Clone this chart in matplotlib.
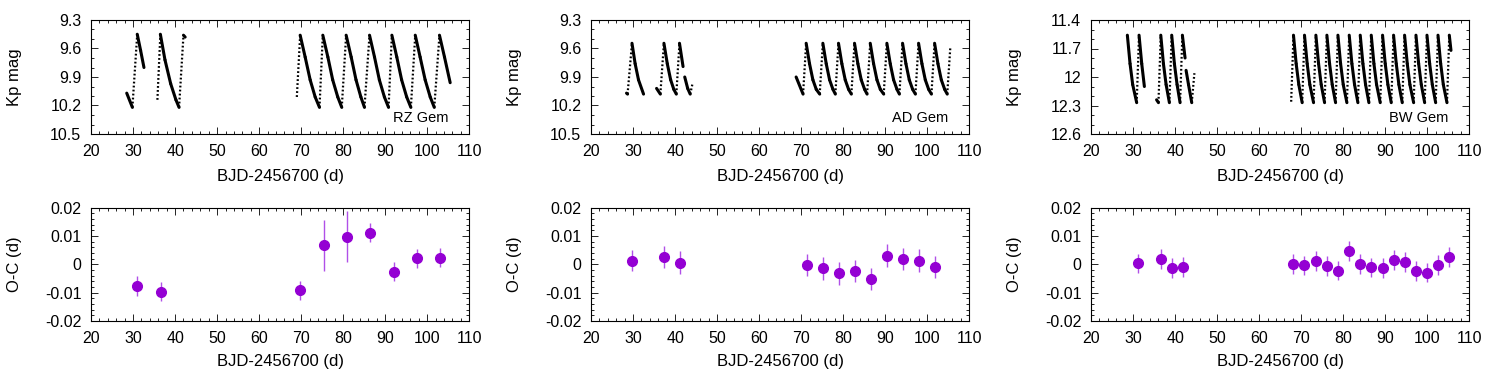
import numpy as np
import matplotlib.pyplot as plt
from matplotlib.ticker import MultipleLocator, FuncFormatter

plt.rcParams['font.family'] = ['Liberation Sans', 'DejaVu Sans']

# ---- light curves (segments separated by data gaps) ----
rz_t = [
    [28.5, 29.85, 31.0, 31.8, 32.6],
    [35.8, 36.5, 37.6, 38.95, 40.2, 40.95, 42.0, 42.4],
    [68.97, 69.76, 70.95, 72.14, 73.33, 74.36,
     75.15, 76.35, 77.5, 78.7, 79.66,
     80.7, 81.9, 83.05, 84.2, 85.06,
     86.26, 87.45, 88.6, 89.8, 90.79,
     91.58, 92.75, 93.9, 95.1, 96.1,
     97.14, 98.3, 99.5, 100.7, 101.67,
     102.9, 104.1, 105.45],
]
rz_m = [
    [10.07, 10.22, 9.45, 9.62, 9.80],
    [10.14, 9.45, 9.72, 9.97, 10.14, 10.22, 9.46, 9.48],
    [10.11, 9.46, 9.69, 9.93, 10.11, 10.22,
     9.46, 9.69, 9.93, 10.11, 10.22,
     9.46, 9.69, 9.93, 10.11, 10.22,
     9.46, 9.69, 9.93, 10.11, 10.22,
     9.46, 9.69, 9.93, 10.11, 10.22,
     9.46, 9.69, 9.93, 10.11, 10.22,
     9.46, 9.69, 9.96],
]

ad_t = [
    [28.45, 28.7, 29.75, 30.5, 31.3, 32.5],
    [35.6, 36.5, 37.35, 38.15, 38.95, 39.7, 40.3, 41.05, 41.9],
    [42.3, 43.0, 43.6, 44.1],
    [68.8, 70.45, 71.19, 71.99, 72.79, 73.59, 74.41,
     75.16, 75.96, 76.76, 77.56, 78.13,
     78.88, 79.68, 80.48, 81.28, 81.94,
     82.69, 83.49, 84.29, 85.09, 85.68,
     86.43, 87.23, 88.03, 88.83, 89.64,
     90.39, 91.19, 91.99, 92.79, 93.37,
     94.12, 94.92, 95.72, 96.52, 97.18,
     97.93, 98.73, 99.53, 100.33, 100.99,
     101.74, 102.54, 103.34, 104.14, 104.75,
     105.48],
]
ad_m = [
    [10.07, 10.08, 9.545, 9.76, 9.93, 10.08],
    [10.02, 10.08, 9.545, 9.76, 9.93, 10.03, 10.08, 9.545, 9.79],
    [9.90, 10.02, 10.08, 9.98],
    [9.90, 10.08, 9.545, 9.76, 9.93, 10.03, 10.08,
     9.545, 9.76, 9.93, 10.03, 10.08,
     9.545, 9.76, 9.93, 10.03, 10.08,
     9.545, 9.76, 9.93, 10.03, 10.08,
     9.545, 9.76, 9.93, 10.03, 10.08,
     9.545, 9.76, 9.93, 10.03, 10.08,
     9.545, 9.76, 9.93, 10.03, 10.08,
     9.545, 9.76, 9.93, 10.03, 10.08,
     9.545, 9.76, 9.93, 10.03, 10.08,
     9.59],
]

bw_t = [
    [28.65, 29.29, 29.92, 30.87, 31.43, 32.07, 32.7],
    [35.6, 36.05, 36.6, 37.23, 37.87, 38.65, 39.2, 39.84, 40.48, 41.19, 41.74, 42.38],
    [42.62, 43.2, 43.97, 44.6],
    [67.62, 68.17, 68.81, 69.44, 70.24,
     70.79, 71.43, 72.06, 72.95,
     73.5, 74.14, 74.77, 75.57,
     76.12, 76.76, 77.39, 78.19,
     78.74, 79.38, 80.01, 80.88,
     81.43, 82.07, 82.70, 83.5,
     84.05, 84.69, 85.32, 86.12,
     86.67, 87.31, 87.94, 88.81,
     89.36, 90.0, 90.63, 91.43,
     91.98, 92.62, 93.25, 94.05,
     94.6, 95.24, 95.87, 96.76,
     97.31, 97.95, 98.58, 99.38,
     99.93, 100.57, 101.2, 102.0,
     102.55, 103.19, 103.82, 104.69,
     105.24, 105.64],
]
bw_m = [
    [11.56, 11.86, 12.08, 12.27, 11.56, 11.86, 12.10],
    [12.24, 12.27, 11.56, 11.86, 12.08, 12.27, 11.56, 11.86, 12.08, 12.27, 11.56, 11.80],
    [11.93, 12.08, 12.27, 11.96],
    [12.26, 11.56, 11.86, 12.08, 12.27,
     11.56, 11.86, 12.08, 12.27,
     11.56, 11.86, 12.08, 12.27,
     11.56, 11.86, 12.08, 12.27,
     11.56, 11.86, 12.08, 12.27,
     11.56, 11.86, 12.08, 12.27,
     11.56, 11.86, 12.08, 12.27,
     11.56, 11.86, 12.08, 12.27,
     11.56, 11.86, 12.08, 12.27,
     11.56, 11.86, 12.08, 12.27,
     11.56, 11.86, 12.08, 12.27,
     11.56, 11.86, 12.08, 12.27,
     11.56, 11.86, 12.08, 12.27,
     11.56, 11.86, 12.08, 12.27,
     11.56, 11.72],
]

# ---- O-C diagrams ----
rz_oc_t = [31.03, 36.59, 69.76, 75.32, 80.87, 86.43, 91.98, 97.54, 102.94]
rz_oc = [-0.0076, -0.0096, -0.0092, 0.0068, 0.0098, 0.0112, -0.0026, 0.0021, 0.0024]
rz_oc_err = [0.0035, 0.0035, 0.0034, 0.0090, 0.0090, 0.0034, 0.0034, 0.0033, 0.0035]

ad_oc_t = [29.84, 37.38, 41.19, 71.35, 75.16, 79.05, 82.86, 86.59, 90.40, 94.20, 97.94, 101.75]
ad_oc = [0.0012, 0.0026, 0.0006, -0.0002, -0.0014, -0.0032, -0.0024, -0.0052,
         0.0031, 0.0019, 0.0013, -0.0009]
ad_oc_err = [0.0037, 0.0038, 0.0040, 0.0040, 0.0040, 0.0040, 0.0040, 0.0040,
             0.0040, 0.0040, 0.0040, 0.0040]

bw_oc_t = [31.27, 36.59, 39.29, 41.83, 68.17, 70.79, 73.49, 76.11, 78.73, 81.43,
           84.05, 86.67, 89.37, 91.98, 94.60, 97.30, 99.92, 102.54, 105.24]
bw_oc = [0.0004, 0.0019, -0.0012, -0.0010, 0.0000, -0.0004, 0.0011, -0.0005, -0.0022,
         0.0047, 0.0002, -0.0011, -0.0014, 0.0015, 0.0007, -0.0024, -0.0029, -0.0002, 0.0027]
bw_oc_err = [0.0034, 0.0034, 0.0036, 0.0036, 0.0035, 0.0035, 0.0035, 0.0035, 0.0035, 0.0035,
             0.0035, 0.0035, 0.0035, 0.0035, 0.0035, 0.0035, 0.0035, 0.0035, 0.0035]

names = ["RZ Gem", "AD Gem", "BW Gem"]
lc_t = [rz_t, ad_t, bw_t]
lc_m = [rz_m, ad_m, bw_m]
ylims = [(10.5, 9.3), (10.5, 9.3), (12.6, 11.4)]
oc_t = [rz_oc_t, ad_oc_t, bw_oc_t]
oc = [rz_oc, ad_oc, bw_oc]
oc_err = [rz_oc_err, ad_oc_err, bw_oc_err]

purple = '#9400d3'
gfmt = FuncFormatter(lambda v, p: '%g' % round(v, 6))


def style(ax):
    ax.set_xlim(20, 110)
    ax.xaxis.set_major_locator(MultipleLocator(10))
    ax.xaxis.set_minor_locator(MultipleLocator(2))
    ax.tick_params(which='both', direction='in', top=True, right=True,
                   labelsize=11.5, width=0.6)
    ax.tick_params(which='major', length=5)
    ax.tick_params(which='minor', length=2.5)
    ax.tick_params(axis='x', pad=7)
    ax.tick_params(axis='y', pad=7)
    ax.xaxis.set_major_formatter(gfmt)
    ax.yaxis.set_major_formatter(gfmt)
    for s in ax.spines.values():
        s.set_linewidth(0.8)
    ax.set_xlabel("BJD-2456700 (d)", fontsize=12)


fig = plt.figure(figsize=(15, 3.75), dpi=100)
lefts = [91 / 1500, 591 / 1500, 1091 / 1500]
w = 378.3 / 1500

for i in range(3):
    # light curve
    ax = fig.add_axes([lefts[i], 1 - 134 / 375, w, 114 / 375])
    for ts, ms in zip(lc_t[i], lc_m[i]):
        for j in range(len(ts) - 1):
            seg_t = [ts[j], ts[j + 1]]
            seg_m = [ms[j], ms[j + 1]]
            if ms[j + 1] < ms[j]:
                # fast rise: sparse points, looks dotted
                ax.plot(seg_t, seg_m, color='k', lw=1.6, ls=(0, (0.8, 1.0)),
                        solid_capstyle='butt')
            else:
                ax.plot(seg_t, seg_m, color='k', lw=2.2, solid_capstyle='round')
    ax.set_ylim(*ylims[i])
    ax.yaxis.set_major_locator(MultipleLocator(0.3))
    ax.yaxis.set_minor_locator(MultipleLocator(0.1))
    style(ax)
    ax.set_ylabel("Kp mag", fontsize=12)
    ax.yaxis.set_label_coords(-0.183, 0.5)
    ax.xaxis.set_label_coords(0.5, -0.31)
    ax.text(0.945, 0.14, names[i], transform=ax.transAxes, ha='right', va='center',
            fontsize=10.5)

    # O-C
    ax2 = fig.add_axes([lefts[i], 1 - 321 / 375, w, 113.3 / 375])
    ax2.errorbar(oc_t[i], oc[i], yerr=oc_err[i], fmt='o', color=purple, ms=7,
                 ecolor='#b050e8', elinewidth=1.0, capsize=0)
    ax2.set_ylim(-0.02, 0.02)
    ax2.yaxis.set_major_locator(MultipleLocator(0.01))
    ax2.yaxis.set_minor_locator(MultipleLocator(0.002))
    style(ax2)
    ax2.set_ylabel("O-C (d)", fontsize=12)
    ax2.yaxis.set_label_coords(-0.183, 0.5)
    ax2.xaxis.set_label_coords(0.5, -0.29)

fig.savefig("out.png", dpi=100)
